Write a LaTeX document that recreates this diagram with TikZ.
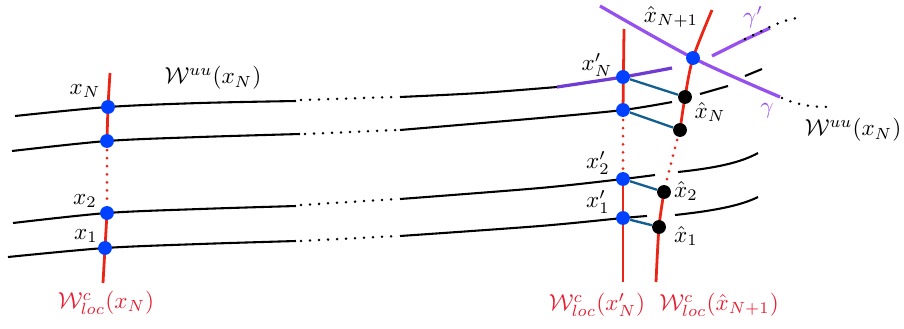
\documentclass[tikz,border=0pt]{standalone}
\usepackage{amsmath}
\definecolor{redc}{RGB}{236,36,20}
\definecolor{redl}{RGB}{232,30,50}
\definecolor{bluedot}{RGB}{0,64,255}
\definecolor{violc}{RGB}{150,80,240}
\definecolor{violdark}{RGB}{110,60,210}
\definecolor{tealc}{RGB}{20,95,145}
\begin{document}
\begin{tikzpicture}[
  x=0.0152cm, y=-0.0152cm,
  leaf/.style={line width=0.9pt},
  leafdots/.style={line width=1.2pt, line cap=round, dash pattern=on 0pt off 3.9pt},
  cw/.style={redc, line width=1.2pt},
  cwdots/.style={redc, line width=1.3pt, line cap=round, dash pattern=on 0pt off 3.5pt},
  gam/.style={violc, line width=1.4pt},
  link/.style={tealc, line width=1pt},
  bdot/.style={circle, fill=bluedot, inner sep=0pt, minimum size=6pt},
  kdot/.style={circle, fill=black, inner sep=0pt, minimum size=6pt},
  lbl/.style={inner sep=1pt},
  rlbl/.style={inner sep=1pt, text=redl}
]
\useasboundingbox (0,0) rectangle (904,328);

% unstable leaves
\draw[leaf] plot[smooth] coordinates {(15,116) (108,107) (200,103) (296,101)};
\draw[leafdots] (301,100) -- (395,97);
\draw[leaf] plot[smooth] coordinates {(400,97) (480,93) (557,87)};
\draw[violdark, line width=1.4pt] plot[smooth] coordinates {(557,87) (623,77) (672,68)};

\draw[leaf] plot[smooth] coordinates {(12,151) (107,141) (200,137) (300,134)};
\draw[leafdots] (305,134) -- (397,130);
\draw[leaf] plot[smooth] coordinates {(400,130) (540,118) (623,110) (672,102)};
\draw[leaf] (700,94) -- (728,86);
\draw[leaf] (745,76) -- (762,69);

\draw[leaf] plot[smooth] coordinates {(13,223) (107,213) (200,209) (296,206)};
\draw[leafdots] (301,205) -- (397,199);
\draw[leaf] plot[smooth] coordinates {(400,199) (540,188) (623,179) (655,175)};
\draw[leaf] (678,172) .. controls (715,168) and (740,163) .. (758,153);

\draw[leaf] plot[smooth] coordinates {(8,257) (105,248) (200,244) (296,241)};
\draw[leafdots] (301,241) -- (397,236);
\draw[leaf] plot[smooth] coordinates {(400,236) (540,226) (623,218) (647,216)};
\draw[leaf] (675,215) .. controls (712,211) and (740,206) .. (758,197);

% center manifolds
\draw[cw] plot[smooth] coordinates {(110,73) (108,107) (107,141)};
\draw[cwdots] (107,150) -- (107,205);
\draw[cw] plot[smooth] coordinates {(107,213) (105,248) (103,283)};

\draw[cw] (624,29) -- (623,110);
\draw[cwdots] (623,120) -- (623,172);
\draw[cw] (623,179) -- (623,282);

\draw[cw] plot[smooth] coordinates {(712,10) (693,58) (685,97) (680,130)};
\draw[cwdots] (677,140) -- (666,183);
\draw[cw] plot[smooth] coordinates {(664,192) (659,227) (656,282)};

% gamma curves
\draw[gam] plot[smooth] coordinates {(600,6) (693,58) (780,97)};
\draw[leafdots] (782,98) .. controls (800,106) and (815,107) .. (832,107);
\draw[gam] plot[smooth] coordinates {(712,56) (740,42) (770,28)};
\draw[leafdots] (745,39) .. controls (765,30) and (780,20) .. (798,18);

% points
\node[bdot] (xN) at (108,107) {};
\node[bdot] (xNm) at (107,141) {};
\node[bdot] (x2) at (107,213) {};
\node[bdot] (x1) at (105,248) {};
\node[bdot] (xpN) at (623,77) {};
\node[bdot] (xpNm) at (623,110) {};
\node[bdot] (xp2) at (623,179) {};
\node[bdot] (xp1) at (623,218) {};
\node[bdot] (hxNp) at (693,58) {};
\node[kdot] (hxN) at (685,97) {};
\node[kdot] (hxNm) at (680,130) {};
\node[kdot] (hx2) at (664,192) {};
\node[kdot] (hx1) at (659,227) {};

\draw[link] (xpN) -- (hxN);
\draw[link] (xpNm) -- (hxNm);
\draw[link] (xp2) -- (hx2);
\draw[link] (xp1) -- (hx1);

% labels
\node[lbl] (lxN) at (85,91) {$x_N$};
\node[lbl] (lWuu) at (213,78) {$\mathcal{W}^{uu}(x_N)$};
\node[lbl] (lx2) at (85,201) {$x_2$};
\node[lbl] (lx1) at (86,236) {$x_1$};
\node[rlbl] (lWc) at (106,303) {$\mathcal{W}^{c}_{loc}(x_N)$};
\node[lbl] (lxpN) at (597,65) {$x'_N$};
\node[lbl] (lhxNp) at (671,17) {$\hat{x}_{N+1}$};
\node[lbl, text=violc] (lgp) at (753,17) {$\gamma'$};
\node[lbl, text=violc] (lg) at (767,111) {$\gamma$};
\node[lbl] (lhxN) at (710,112) {$\hat{x}_N$};
\node[lbl] (lWuu2) at (853,130) {$\mathcal{W}^{uu}(x_N)$};
\node[lbl] (lxp2) at (598,163) {$x'_2$};
\node[lbl] (lxp1) at (598,202) {$x'_1$};
\node[lbl] (lhx2) at (686,191) {$\hat{x}_2$};
\node[lbl] (lhx1) at (686,236) {$\hat{x}_1$};
\node[rlbl] (lWcp) at (597,305) {$\mathcal{W}^{c}_{loc}(x'_N)$};
\node[rlbl] (lWch) at (719,305) {$\mathcal{W}^{c}_{loc}(\hat{x}_{N+1})$};
\end{tikzpicture}
\end{document}
